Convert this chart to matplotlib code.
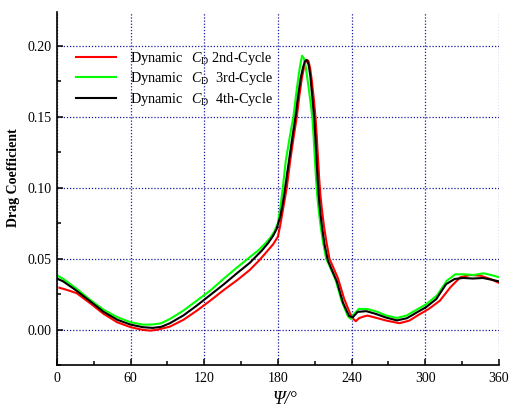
import numpy as np
import matplotlib
matplotlib.use("Agg")
import matplotlib.pyplot as plt

plt.rcParams['font.family'] = ['Liberation Serif', 'DejaVu Serif']
plt.rcParams['mathtext.fontset'] = 'custom'
plt.rcParams['mathtext.rm'] = 'Liberation Serif'
plt.rcParams['mathtext.it'] = 'Liberation Serif:style=italic'

# azimuth (deg) and drag coefficient
psi_c2 = [2, 8, 16, 27, 38, 49, 60, 70, 76, 81, 92, 103, 114, 125, 136, 147, 157, 165, 171,
          176, 180, 182, 184, 187.2, 190, 192.7, 195.4, 197.5, 199.5, 201.5, 203, 204, 205,
          206.3, 207.7, 209.2, 210.6, 211.6, 212.6, 213.6, 214.6, 215.8, 217.5, 219.5, 222,
          225, 229, 234, 239, 241.5, 243.5, 246, 249, 253, 260.5, 268.6, 279, 287,
          295, 303, 312, 320.5, 328.6, 336.8, 345, 353, 360]
cd_c2 = [0.0295, 0.028, 0.0257, 0.0186, 0.0111, 0.0052, 0.0017, -0.0002, -0.0007, -0.0002,
         0.0021, 0.0069, 0.0134, 0.0205, 0.028, 0.035, 0.042, 0.049, 0.055,
         0.060, 0.0655, 0.074, 0.084, 0.100, 0.119, 0.135, 0.150, 0.165, 0.177, 0.186, 0.1895,
         0.190, 0.189, 0.184, 0.175, 0.163, 0.150, 0.137, 0.122, 0.107, 0.095, 0.085, 0.073,
         0.062, 0.050, 0.044, 0.036, 0.0216, 0.011, 0.0075, 0.0059, 0.008, 0.009,
         0.0099, 0.0082, 0.0063, 0.0045, 0.0063, 0.0106, 0.0146, 0.0204, 0.0298, 0.0369,
         0.0385, 0.038, 0.0357, 0.033]

psi_c3 = [0, 5, 16, 27, 38, 49, 60, 70, 78, 85, 92, 103, 114, 125, 136, 147, 157, 164, 170,
          174, 177, 180, 182, 184, 186.4, 189.5, 192.6, 195, 197, 198.5, 199.7, 201, 202.5,
          204.5, 206.3, 208, 209, 210, 211, 212, 213, 214.5, 216.5, 219.3, 222, 227, 232, 237,
          239.5, 242, 246, 253, 260.5, 268, 277, 285, 293, 301,
          309.5, 317.7, 324.5, 331.4, 339.5, 347.7, 355.9, 360]
cd_c3 = [0.0382, 0.0358, 0.0288, 0.021, 0.014, 0.0088, 0.0052, 0.0035, 0.0036, 0.0045, 0.0075,
         0.0134, 0.0205, 0.0276, 0.036, 0.044, 0.051, 0.0558, 0.061,
         0.065, 0.069, 0.075, 0.086, 0.100, 0.119, 0.135, 0.150, 0.167, 0.180, 0.188, 0.193,
         0.1915, 0.186, 0.174, 0.162, 0.150, 0.137, 0.122, 0.107, 0.095, 0.086, 0.075, 0.063,
         0.050, 0.045, 0.035, 0.020, 0.0095, 0.0075, 0.011, 0.0146,
         0.0145, 0.0127, 0.0100, 0.0082, 0.0100, 0.014, 0.018, 0.024, 0.0345, 0.039, 0.039,
         0.0385, 0.0397, 0.038, 0.037]

psi_c4 = [0, 5, 15, 27, 38, 49, 60, 70, 78, 85, 92, 103, 114, 125, 136, 147, 157, 167, 172,
          176, 179, 182, 184, 185.9, 187.5, 189, 191.5, 194.3, 196.5, 198.5, 200.5, 202, 203,
          204, 205.2, 206.5, 208, 209.5, 210.5, 211.5, 212.5, 213.5, 214.5, 216, 218, 220.7,
          224, 228, 233, 238, 241, 245, 252, 260, 268, 277, 285, 293, 301, 309,
          317, 324, 331, 339, 347, 355, 360]
cd_c4 = [0.036, 0.034, 0.028, 0.020, 0.0125, 0.007, 0.0035, 0.0017, 0.0012, 0.002, 0.0045,
         0.0100, 0.0170, 0.0245, 0.032, 0.040, 0.047, 0.0558, 0.061,
         0.066, 0.071, 0.080, 0.089, 0.100, 0.110, 0.119, 0.134, 0.150, 0.165, 0.177, 0.185,
         0.189, 0.190, 0.1895, 0.186, 0.178, 0.164, 0.150, 0.136, 0.120, 0.104, 0.092, 0.083,
         0.072, 0.060, 0.0488, 0.042, 0.034, 0.019, 0.0095, 0.0087, 0.0125, 0.013,
         0.011, 0.0085, 0.0065, 0.008, 0.012, 0.016, 0.0215, 0.032, 0.0357, 0.0364, 0.036,
         0.0364, 0.035, 0.034]

labels = [r"Dynamic  $\,\mathit{C}_{\mathrm{D}}$ 2nd-Cycle",
          r"Dynamic  $\,\mathit{C}_{\mathrm{D}}$  3rd-Cycle",
          r"Dynamic  $\,\mathit{C}_{\mathrm{D}}$  4th-Cycle"]

fig = plt.figure(figsize=(5.09, 4.07), dpi=100)
ax = fig.add_axes([0.112, 0.103, 0.868, 0.868])

ax.plot(psi_c2, cd_c2, color='#ff0000', lw=1.5, label=labels[0])
ax.plot(psi_c3, cd_c3, color='#00ff00', lw=1.5, label=labels[1])
ax.plot(psi_c4, cd_c4, color='black', lw=1.5, label=labels[2])

ax.set_xlim(0, 360)
ax.set_ylim(-0.025, 0.224)
ax.set_xticks(np.arange(0, 361, 60))
ax.set_xticks(np.arange(30, 361, 60), minor=True)
ax.set_yticks([0.0, 0.05, 0.10, 0.15, 0.20])
ax.set_yticks([-0.025, 0.025, 0.075, 0.125, 0.175], minor=True)
ax.set_yticklabels(['0.00', '0.05', '0.10', '0.15', '0.20'])

ax.grid(True, which='major', color='#1a1aa0', linestyle=(0, (1, 1.5)), lw=0.9)
ax.set_axisbelow(True)

for s in ['top', 'right']:
    ax.spines[s].set_visible(False)
for s in ['left', 'bottom']:
    ax.spines[s].set_linewidth(1.2)

ax.tick_params(which='major', direction='in', length=4, width=1.1, labelsize=10, pad=5)
ax.tick_params(which='minor', direction='in', length=3, width=1.1)
ax.tick_params(axis='y', pad=4)

ax.set_xlabel('Ψ/°', fontsize=13, fontstyle='italic')
ax.xaxis.set_label_coords(0.516, -0.072)
ax.set_ylabel('Drag Coefficient', fontsize=10, fontweight='bold')
ax.yaxis.set_label_coords(-0.084, 0.53)

leg = ax.legend(loc='upper left', bbox_to_anchor=(0.043, 0.893), frameon=False,
                fontsize=10.3, handlelength=2.8, handletextpad=0.95, labelspacing=0.26,
                borderpad=0, borderaxespad=0)

fig.savefig('out.png', dpi=100)
